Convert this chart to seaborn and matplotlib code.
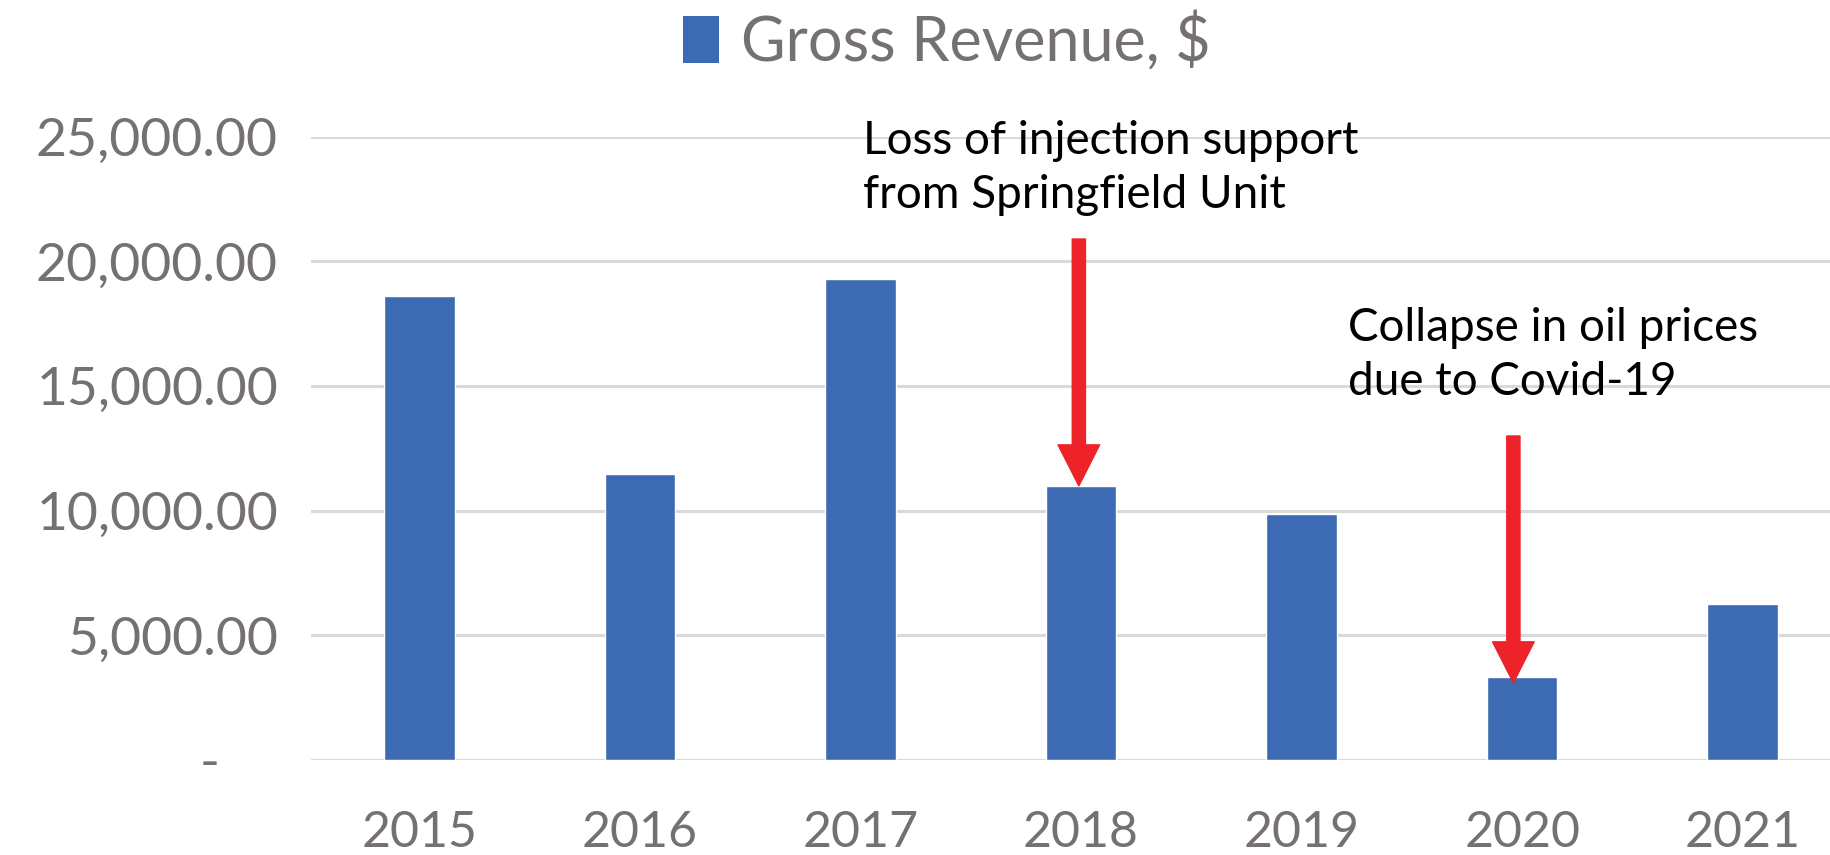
import matplotlib
matplotlib.use("Agg")
import matplotlib.pyplot as plt
import matplotlib.transforms as mtransforms
import seaborn as sns
import pandas as pd
from matplotlib.patches import Patch
from matplotlib.ticker import FuncFormatter

years = ["2015", "2016", "2017", "2018", "2019", "2020", "2021"]
revenue = [18600, 11480, 19290, 11000, 9880, 3320, 6280]
series_name = "Gross Revenue, $"
yticks = [0, 5000, 10000, 15000, 20000, 25000]
note1 = "Loss of injection support\nfrom Springfield Unit"
note2 = "Collapse in oil prices\ndue to Covid-19"

sns.set_theme(style="white")
plt.rcParams["font.family"] = ["Lato", "DejaVu Sans"]

df = pd.DataFrame({"year": years, "rev": revenue})

fig = plt.figure(figsize=(18.31, 8.55), dpi=100)
ax = fig.add_axes([0.170, 0.111, 0.830, 0.729])

BLUE = "#3d6bb3"
GRAY = "#767171"
RED = "#ee2229"

sns.barplot(data=df, x="year", y="rev", color=BLUE, width=0.32, ax=ax,
            saturation=1, zorder=3)

ax.set_ylim(0, 25000)
ax.set_xlim(-0.49, 6.4)
ax.set_yticks(yticks)
ax.yaxis.set_major_formatter(FuncFormatter(lambda v, p: "-" if v == 0 else f"{v:,.2f}"))
ax.grid(axis="y", color="#d9d9d9", lw=2.2, zorder=0)
ax.grid(axis="x", visible=False)
for s in ax.spines.values():
    s.set_visible(False)
ax.set_xlabel("")
ax.set_ylabel("")
ax.tick_params(axis="y", labelsize=38.5, colors=GRAY, length=0, pad=24)
ax.tick_params(axis="x", labelsize=36, colors=GRAY, length=0, pad=36)

# accounting-style zero: dash sits left of the decimal column
zero_tick = ax.yaxis.get_major_ticks()[0]
zero_tick.label1.set_transform(zero_tick.label1.get_transform() +
                               mtransforms.ScaledTranslation(-0.58, 0, fig.dpi_scale_trans))

arrow_style = "simple,head_width=3.0,head_length=2.95,tail_width=0.95"
ax.annotate("", xy=(2.99, 11000), xytext=(2.99, 20900),
            arrowprops=dict(arrowstyle=arrow_style, color=RED, mutation_scale=10,
                            shrinkA=0, shrinkB=0), zorder=5)
ax.annotate("", xy=(4.96, 3100), xytext=(4.96, 13000),
            arrowprops=dict(arrowstyle=arrow_style, color=RED, mutation_scale=10,
                            shrinkA=0, shrinkB=0), zorder=5)

ax.text(2.01, 23750, note1, fontsize=33, color="black", ha="left", va="center",
        linespacing=1.33, zorder=6)
ax.text(4.21, 16250, note2, fontsize=33, color="black", ha="left", va="center",
        linespacing=1.33, zorder=6)

handles = [Patch(facecolor=BLUE, edgecolor="none")]
fig.legend(handles, [series_name], loc="center", bbox_to_anchor=(0.517, 0.951),
           frameon=False, fontsize=44, labelcolor=GRAY, handlelength=0.6,
           handleheight=0.8, handletextpad=0.35, borderpad=0)

fig.savefig("out.png", dpi=100)
